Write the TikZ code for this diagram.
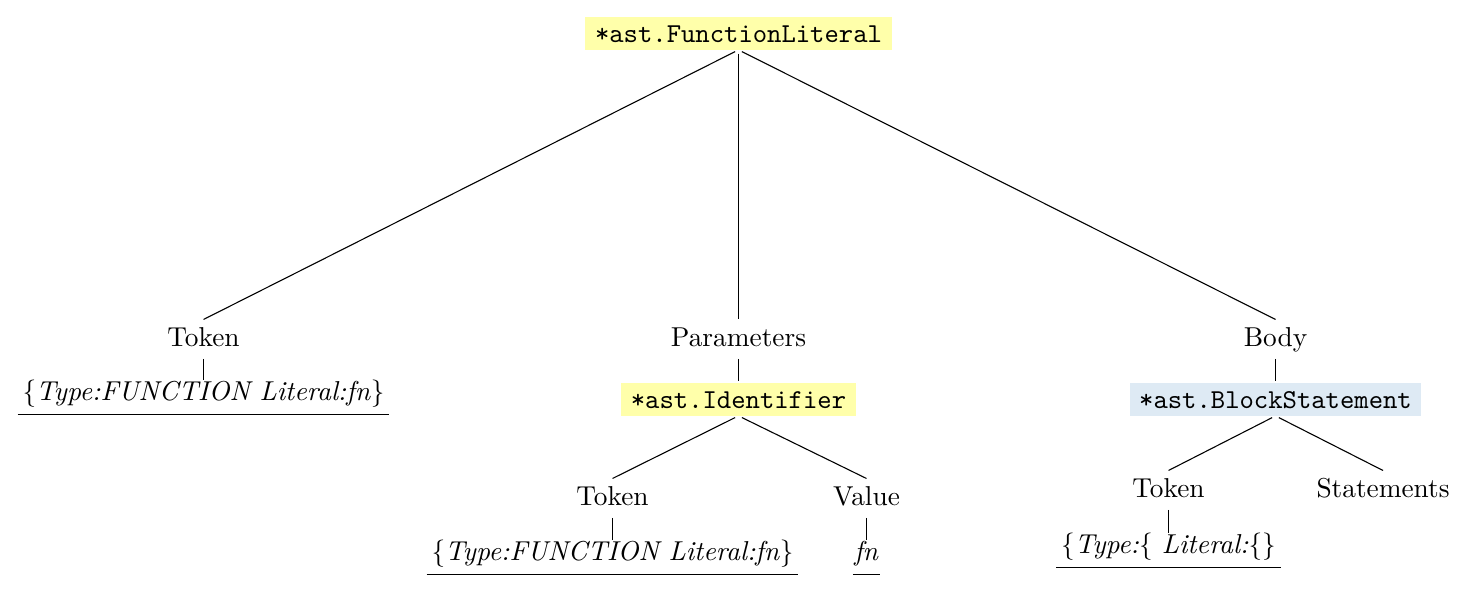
\documentclass[tikz,border=0pt]{standalone}
\definecolor{hlyellow}{RGB}{255,255,170}
\definecolor{hlblue}{RGB}{222,234,244}
\begin{document}
\begin{tikzpicture}[x=0.3659pt, y=-0.3659pt,
  box/.style={inner xsep=3.5pt, inner ysep=2.7pt, text height=6.6pt, text depth=0pt, outer sep=0pt, font=\ttfamily},
  ybox/.style={box, fill=hlyellow},
  bbox/.style={box, fill=hlblue},
  lbl/.style={inner xsep=1pt, inner ysep=2.6pt, text height=6.9pt, text depth=1.9pt, anchor=base},
  leaf/.style={inner xsep=1.6pt, inner ysep=0pt, text height=7.3pt, text depth=5.2pt, anchor=base,
    append after command={(\tikzlastnode.south west) edge (\tikzlastnode.south east)}},
  edge from box/.style={shorten <=1.4pt},
  edge to box/.style={shorten >=0.7pt}]
\useasboundingbox (0,0) rectangle (1467,595);

\node[ybox] (fl) at (738.5,33.5) {*ast.FunctionLiteral};

\node[lbl] (tok1) at (203.5,346) {Token};
\node[leaf] (tok1v) at (203.5,400) {\{\textit{Type:FUNCTION Literal:fn}\}};

\node[lbl] (par) at (738.5,346) {Parameters};
\node[ybox] (id) at (738.5,399.5) {*ast.Identifier};
\node[lbl] (tok2) at (612.5,505) {Token};
\node[leaf] (tok2v) at (612.5,560) {\{\textit{Type:FUNCTION Literal:fn}\}};
\node[lbl] (val) at (866.5,505) {Value};
\node[leaf, inner xsep=0.3pt] (valv) at (866.5,560) {\textit{fn}};

\node[lbl] (body) at (1275.5,346) {Body};
\node[bbox] (bs) at (1275.5,399.5) {*ast.BlockStatement};
\node[lbl] (tok3) at (1168.5,497) {Token};
\node[leaf] (tok3v) at (1168.5,553) {\{\textit{Type:}\{ \textit{Literal:}\{\}};
\node[lbl] (stm) at (1383,497) {Statements};

\draw[edge from box] (fl.south) -- (tok1.north);
\draw[edge from box] (fl.south) -- (par.north);
\draw[edge from box] (fl.south) -- (body.north);
\draw (tok1.south) -- (tok1v.north);
\draw[edge to box] (par.south) -- (id.north);
\draw[edge from box] (id.south) -- (tok2.north);
\draw[edge from box] (id.south) -- (val.north);
\draw (tok2.south) -- (tok2v.north);
\draw (val.south) -- (valv.north);
\draw[edge to box] (body.south) -- (bs.north);
\draw[edge from box] (bs.south) -- (tok3.north);
\draw[edge from box] (bs.south) -- (stm.north);
\draw (tok3.south) -- (tok3v.north);
\end{tikzpicture}
\end{document}
